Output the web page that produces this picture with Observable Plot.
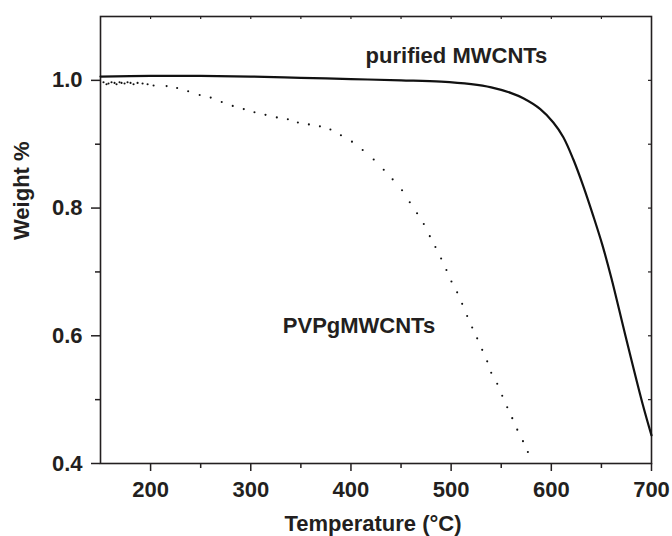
<!DOCTYPE html>
<html>
<head>
<meta charset="utf-8">
<script src="https://cdn.jsdelivr.net/npm/d3@7"></script>
<script src="https://cdn.jsdelivr.net/npm/@observablehq/plot@0.6"></script>
<style>
  html, body { margin: 0; padding: 0; background: #fff; }
</style>
</head>
<body>
<div id="chart"></div>
<script>
// purified MWCNTs (solid line)
const tempSolid = [150, 200, 250, 300, 350, 400, 450, 490, 520, 540, 560, 572, 589, 602, 612, 622, 632, 642, 651, 660, 674, 691, 700];
const weightSolid = [1.006, 1.007, 1.007, 1.006, 1.004, 1.002, 1.000, 0.998, 0.994, 0.989, 0.980, 0.972, 0.955, 0.934, 0.911, 0.876, 0.834, 0.787, 0.742, 0.690, 0.600, 0.494, 0.444];

// PVPgMWCNTs (dotted)
const tempDots = [153, 156, 158, 161, 164, 166, 169, 171, 174, 177, 180, 183, 187, 192, 197, 203, 216, 226.5, 237.5, 249, 260, 271, 282, 293, 303.7, 314.7, 326, 337, 347, 358, 369, 379.5, 390, 401, 411.7, 422.7, 432.7, 441.6, 451, 458.7, 466, 472.7, 478.7, 484.3, 490, 495.3, 500.3, 506, 511, 516, 521, 526, 531, 536, 540, 546, 551, 556, 561, 566, 571.7, 576.6];
const weightDots = [0.997, 0.994, 0.995, 0.997, 0.996, 0.994, 0.997, 0.996, 0.995, 0.997, 0.996, 0.994, 0.996, 0.995, 0.994, 0.992, 0.991, 0.988, 0.983, 0.977, 0.973, 0.966, 0.960, 0.955, 0.950, 0.946, 0.942, 0.939, 0.934, 0.931, 0.928, 0.923, 0.914, 0.904, 0.891, 0.876, 0.860, 0.845, 0.828, 0.809, 0.792, 0.775, 0.756, 0.739, 0.721, 0.703, 0.685, 0.668, 0.650, 0.631, 0.613, 0.596, 0.578, 0.560, 0.542, 0.525, 0.506, 0.488, 0.471, 0.453, 0.435, 0.418];

const xMajorTicks = [200, 300, 400, 500, 600, 700];
const xMinorTicks = [250, 350, 450, 550, 650];
const xTopTicks = [200, 250, 300, 350, 400, 450, 500, 550, 600, 650];
const yMajorTicks = [0.4, 0.6, 0.8, 1.0];
const yMinorTicks = [0.5, 0.7, 0.9];
const yRightTicks = [0.5, 0.6, 0.7, 0.8, 0.9, 1.0];

const labelSolid = "purified MWCNTs";
const labelDots = "PVPgMWCNTs";
const xTitle = "Temperature (°C)";
const yTitle = "Weight %";

const solid = tempSolid.map((t, i) => ({t, w: weightSolid[i]}));
const dots = tempDots.map((t, i) => ({t, w: weightDots[i]}));

const W = 672, H = 536;
const mL = 100, mR = 21, mT = 16, mB = 73;
const frameW = W - mL - mR, frameH = H - mT - mB;
const ink = "#231f20";
const font = "'Liberation Sans', Arial, Helvetica, sans-serif";

const chart = Plot.plot({
  width: W,
  height: H,
  marginLeft: mL,
  marginRight: mR,
  marginTop: mT,
  marginBottom: mB,
  style: {fontFamily: font, fontSize: "22px", fontWeight: "bold", color: ink, background: "#fff"},
  x: {domain: [150, 700]},
  y: {domain: [0.4, 1.1]},
  marks: [
    Plot.frame({stroke: ink, strokeWidth: 1.6}),
    Plot.axisX({ticks: xMajorTicks, tickSize: 8, tickPadding: 10, tickFormat: d3.format("d"), stroke: ink, strokeWidth: 1.5, fill: ink, fontSize: 22, fontWeight: "bold", label: null}),
    Plot.axisX({ticks: xMinorTicks, tickSize: 5, text: null, stroke: ink, strokeWidth: 1.5, label: null}),
    Plot.axisY({ticks: yMajorTicks, tickSize: 9, tickPadding: 9, tickFormat: d3.format(".1f"), stroke: ink, strokeWidth: 1.5, fill: ink, fontSize: 22, fontWeight: "bold", label: null}),
    Plot.axisY({ticks: yMinorTicks, tickSize: 5, text: null, stroke: ink, strokeWidth: 1.5, label: null}),
    Plot.ruleX(xTopTicks, {x: d => d, insetBottom: frameH - 3, stroke: ink, strokeWidth: 1.2}),
    Plot.ruleY(yRightTicks, {y: d => d, insetLeft: frameW - 3, stroke: ink, strokeWidth: 1.2}),
    Plot.line(solid, {x: "t", y: "w", stroke: "#111", strokeWidth: 2.2, curve: "catmull-rom"}),
    Plot.dot(dots, {x: "t", y: "w", r: 1.05, fill: "#111", stroke: null}),
    Plot.text([labelSolid], {x: 596, y: 1.027, text: d => d, textAnchor: "end", lineAnchor: "bottom", fill: ink, fontSize: 22, fontWeight: "bold"}),
    Plot.text([labelDots], {x: 408, y: 0.6036, text: d => d, textAnchor: "middle", lineAnchor: "bottom", fill: ink, fontSize: 22, fontWeight: "bold"}),
    Plot.text([xTitle], {frameAnchor: "bottom", dx: -3, dy: 67, text: d => d, lineAnchor: "bottom", fill: ink, fontSize: 22, fontWeight: "bold"}),
    Plot.text([yTitle], {frameAnchor: "left", dx: -72, text: d => d, rotate: -90, lineAnchor: "bottom", fill: ink, fontSize: 22, fontWeight: "bold"})
  ]
});
document.getElementById("chart").appendChild(chart);
</script>
</body>
</html>
